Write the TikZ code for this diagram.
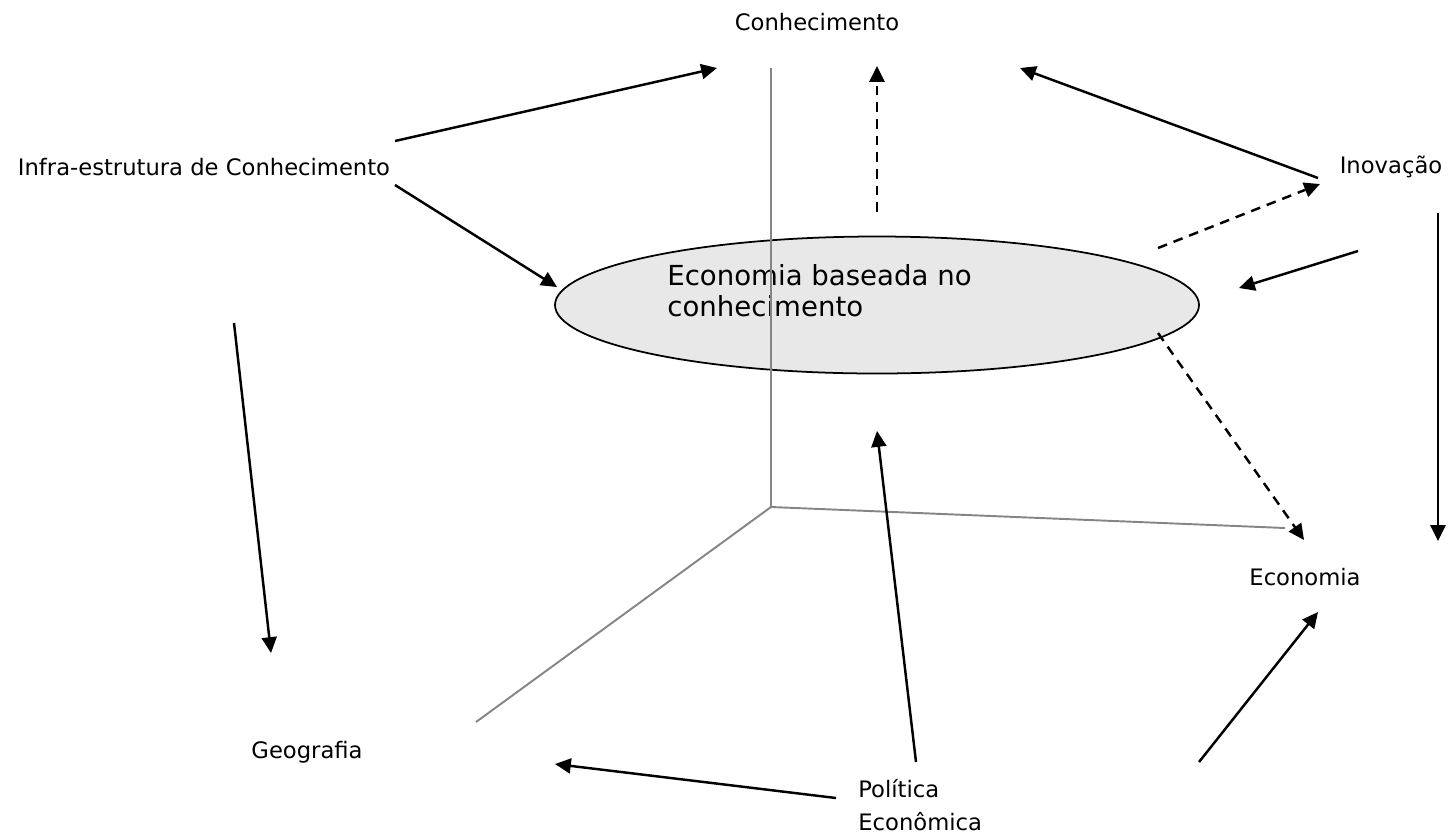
\documentclass[tikz,border=0pt]{standalone}
\usepackage{fontspec}
\setmainfont{DejaVu Sans}
\usetikzlibrary{arrows.meta,shapes.geometric}
\begin{document}
\begin{tikzpicture}[x=0.02cm,y=-0.02cm,
  lbl/.style={inner sep=0pt,font=\fontsize{12.9}{19.2}\selectfont},
  arr/.style={line width=1.4pt,-{Triangle[length=9pt,width=8.5pt]}},
  darr/.style={arr,dash pattern=on 5.5pt off 4pt},
  axis/.style={draw=black!48,line width=1.1pt}]
\useasboundingbox (0,0) rectangle (1449,836);
% nodes
\node[lbl] (kn) at (817,22) {Conhecimento};
\node[lbl] (infra) at (204,167) {Infra-estrutura de Conhecimento};
\node[lbl] (inov) at (1391,167) {Inovação};
\node[lbl] (econ) at (1305,577) {Economia};
\node[lbl] (geo) at (307,752) {Geografia};
\node[lbl,align=left,anchor=west] (pol) at (858,805) {Política\\Econômica};
\node[ellipse,draw=black,line width=1pt,fill=black!9,minimum width=644*0.02cm,minimum height=137*0.02cm,inner sep=0pt] (ell) at (877,305) {};
\node[inner sep=0pt,anchor=west,align=left,font=\fontsize{15.7}{17.6}\selectfont] (elltext) at (667,291) {Economia baseada no\\conhecimento};
% axes
\coordinate (o) at (771,507);
\coordinate (ztop) at (771,68);
\coordinate (xend) at (1285,528);
\coordinate (yend) at (476,722);
\draw[axis] (ztop) -- (o) -- (xend);
\draw[axis] (o) -- (yend);
% arrow endpoints
\coordinate (a1s) at (395,141); \coordinate (a1e) at (717,68);
\coordinate (a2s) at (1318,178); \coordinate (a2e) at (1020,68);
\coordinate (a3s) at (395,185); \coordinate (a3e) at (557,287);
\coordinate (a4s) at (1358,251); \coordinate (a4e) at (1239,288);
\coordinate (a5s) at (1438,213); \coordinate (a5e) at (1438,541);
\coordinate (a6s) at (234,323); \coordinate (a6e) at (271,653);
\coordinate (a7s) at (916,762); \coordinate (a7e) at (877,431);
\coordinate (a8s) at (836,798); \coordinate (a8e) at (555,764);
\coordinate (a9s) at (1199,762); \coordinate (a9e) at (1318,612);
\coordinate (d1s) at (877,212); \coordinate (d1e) at (877,66);
\coordinate (d2s) at (1158,248); \coordinate (d2e) at (1320,184);
\coordinate (d3s) at (1158,333); \coordinate (d3e) at (1304,540);
\draw[arr] (a1s) -- (a1e);
\draw[arr] (a2s) -- (a2e);
\draw[arr] (a3s) -- (a3e);
\draw[arr] (a4s) -- (a4e);
\draw[arr] (a5s) -- (a5e);
\draw[arr] (a6s) -- (a6e);
\draw[arr] (a7s) -- (a7e);
\draw[arr] (a8s) -- (a8e);
\draw[arr] (a9s) -- (a9e);
\draw[darr] (d1s) -- (d1e);
\draw[darr] (d2s) -- (d2e);
\draw[darr] (d3s) -- (d3e);
\end{tikzpicture}
\end{document}
